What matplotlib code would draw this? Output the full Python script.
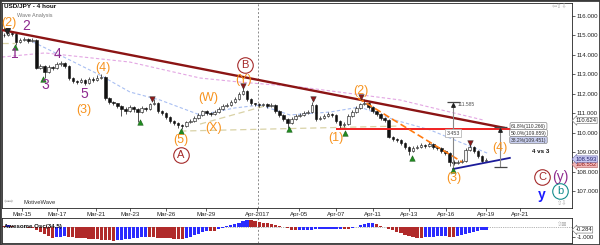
import matplotlib
matplotlib.use("Agg")
import matplotlib.pyplot as plt
from matplotlib.patches import Rectangle
import numpy as np

plt.rcParams['font.family'] = ['Liberation Sans', 'DejaVu Sans']

# ---------------- data ----------------
closes = [
    115.00, 115.15, 115.05, 114.65, 114.75, 114.80, 114.70, 114.75, 113.35, 113.45,
    113.10, 113.40, 113.30, 113.55, 113.60, 113.45, 112.80, 112.65, 112.60, 112.70,
    112.55, 112.75, 112.70, 112.80, 112.85, 111.80, 111.60, 111.50, 111.35, 111.20,
    111.10, 111.30, 111.20, 111.05, 111.25, 111.20, 111.45, 111.55, 111.10, 111.00,
    110.80, 110.60, 110.50, 110.40, 110.35, 110.55, 110.60, 110.75, 110.90, 111.10,
    111.00, 110.95, 111.05, 111.20, 111.35, 111.40, 111.60, 111.75, 112.00, 112.15,
    111.75, 111.50, 111.45, 111.40, 111.45, 111.35, 111.40, 111.10, 110.90, 110.70,
    110.50, 110.70, 110.85, 110.90, 111.00, 111.05, 111.40, 110.70, 110.75, 110.85,
    110.95, 110.90, 110.60, 110.40, 110.45, 110.85, 111.05, 111.25, 111.45, 111.55,
    111.30, 111.10, 110.95, 110.75, 110.65, 109.80, 109.65, 109.60, 109.45, 109.25,
    109.05, 109.20, 109.25, 109.35, 109.30, 109.40, 109.25, 109.20, 109.05, 108.95,
    108.50, 108.45, 108.50, 108.55, 109.10, 109.25, 109.05, 108.80, 108.55, 108.59,
]
highs = [
    115.15, 115.30, 115.20, 115.10, 114.85, 114.90, 114.85, 114.85, 114.80, 113.55,
    113.50, 113.50, 113.45, 113.65, 113.70, 113.65, 113.50, 112.85, 112.70, 112.80,
    112.75, 112.85, 112.85, 112.95, 113.00, 112.90, 111.85, 111.65, 111.55, 111.40,
    111.30, 111.40, 111.35, 111.25, 111.35, 111.30, 111.55, 111.75, 111.60, 111.15,
    111.05, 110.85, 110.65, 110.55, 110.45, 110.60, 110.70, 110.85, 111.00, 111.15,
    111.15, 111.05, 111.15, 111.30, 111.45, 111.50, 111.70, 111.85, 112.10, 112.35,
    112.20, 111.80, 111.55, 111.50, 111.55, 111.50, 111.50, 111.45, 111.15, 110.95,
    110.75, 110.80, 110.95, 111.00, 111.10, 111.15, 111.60, 111.45, 110.85, 110.95,
    111.05, 111.00, 110.95, 110.65, 110.55, 110.95, 111.15, 111.35, 111.55, 111.75,
    111.60, 111.35, 111.15, 111.00, 110.80, 110.70, 109.85, 109.70, 109.65, 109.50,
    109.30, 109.30, 109.35, 109.45, 109.40, 109.50, 109.45, 109.30, 109.25, 109.10,
    109.00, 108.60, 108.60, 108.65, 109.20, 109.40, 109.30, 109.10, 108.85, 108.70,
]
lows = [
    114.90, 114.95, 114.95, 114.50, 114.60, 114.70, 114.60, 114.65, 113.25, 113.25,
    112.80, 113.05, 113.20, 113.25, 113.45, 113.35, 112.70, 112.55, 112.50, 112.55,
    112.45, 112.50, 112.60, 112.65, 112.75, 111.70, 111.45, 111.40, 111.25, 110.85,
    110.95, 111.05, 111.05, 110.55, 111.00, 111.10, 111.15, 111.40, 111.00, 110.90,
    110.70, 110.50, 110.40, 110.25, 110.20, 110.30, 110.50, 110.55, 110.70, 110.85,
    110.90, 110.85, 110.90, 111.00, 111.15, 111.30, 111.35, 111.55, 111.70, 111.95,
    111.65, 111.40, 111.35, 111.30, 111.35, 111.25, 111.30, 111.00, 110.80, 110.60,
    110.25, 110.45, 110.65, 110.80, 110.85, 110.95, 111.00, 110.60, 110.65, 110.70,
    110.80, 110.80, 110.50, 110.20, 110.30, 110.40, 110.80, 111.00, 111.20, 111.40,
    111.20, 111.00, 110.85, 110.65, 110.55, 109.70, 109.55, 109.50, 109.35, 109.15,
    108.85, 109.00, 109.15, 109.20, 109.20, 109.25, 109.15, 109.10, 108.95, 108.85,
    108.30, 108.35, 108.40, 108.45, 108.50, 109.05, 108.95, 108.70, 108.45, 108.50,
]
osc = [
    0.15, 0.20, 0.12, 0.05, -0.02, 0.00, -0.05, -0.12, -0.30, -0.50,
    -0.70, -0.90, -1.05, -1.00, -0.95, -0.90, -0.95, -1.00, -1.05, -1.10,
    -1.12, -1.15, -1.18, -1.20, -1.25, -1.28, -1.32, -1.35, -1.30, -1.25,
    -1.20, -1.15, -1.10, -1.05, -1.00, -0.95, -1.00, -1.02, -1.05, -1.08,
    -1.10, -1.12, -1.15, -1.18, -1.20, -1.10, -0.95, -0.80, -0.65, -0.50,
    -0.35, -0.38, -0.40, -0.22, -0.05, 0.08, 0.20, 0.32, 0.45, 0.58,
    0.70, 0.68, 0.60, 0.52, 0.45, 0.38, 0.30, 0.22, 0.15, 0.05,
    -0.10, -0.25, -0.32, -0.30, -0.28, -0.26, -0.25, -0.24, -0.22, -0.20,
    -0.19, -0.18, -0.16, -0.15, -0.18, -0.20, -0.10, 0.05, 0.20, 0.32,
    0.40, 0.42, 0.30, 0.15, 0.00, -0.15, -0.30, -0.45, -0.60, -0.75,
    -0.90, -1.00, -1.05, -1.10, -1.00, -0.98, -0.95, -0.93, -0.90, -0.88,
    -0.95, -1.00, -0.90, -0.78, -0.65, -0.55, -0.45, -0.37, -0.31, -0.284,
]
date_labels = ["Mar-15", "Mar-17", "Mar-21", "Mar-23", "Mar-26", "Mar-29", "Apr-2017",
               "Apr-05", "Apr-07", "Apr-11", "Apr-13", "Apr-16", "Apr-19", "Apr-21"]
date_bars = [4.4, 13.1, 22.7, 31.1, 40.0, 49.9, 62.5, 72.8, 82.0, 91.1, 100.0, 109.1, 119.0, 127.4]
price_ticks = [107, 108, 109, 110, 111, 112, 113, 114, 115, 116]

# drawn studies (bar index, price)
trend_x = [-0.5, 123.7]
trend_y = [115.28, 110.24]
ma_slow_x = [-0.5, 10.1, 31.1, 48.4, 58.3, 73.1, 97.8, 118.3]
ma_slow_y = [113.89, 114.10, 113.63, 112.81, 112.60, 112.35, 111.68, 110.65]
ma_fast_x = [7.2, 13.8, 23.7, 31.1, 38.5, 48.4, 57.0, 63.2, 70.6, 80.5, 87.9, 96.5, 105.2, 110.1, 119.3]
ma_fast_y = [114.66, 113.99, 112.96, 112.09, 111.68, 110.91, 111.27, 111.42, 110.91, 111.06,
             111.32, 110.65, 110.14, 109.72, 108.95]
beige1_x, beige1_y = [43.5, 97.8], [110.08, 110.34]
beige2_x, beige2_y = [48.4, 64.4], [110.44, 111.37]
beige3_x, beige3_y = [-0.5, 2.7], [114.61, 114.61]
orange_x, orange_y = [87.4, 113.1], [111.78, 108.49]
navy_x, navy_y = [110.9, 124.9], [108.13, 108.70]
red_x, red_y = [82.2, 124.9], [110.19, 110.19]
fib1_x, fib1_lo, fib1_hi = 110.9, 108.15, 111.585
fib2_x, fib2_lo, fib2_hi = 122.5, 108.23, 110.266
fib_levels = ["61.8%(110.266)", "50.0%(109.859)", "38.2%(109.451)"]

# ---------------- helpers ----------------
W, H = 600, 245
def P(x, y):
    return ((x - 4) / 4.05, 116 - (y - 16) / 19.44)

fig = plt.figure(figsize=(6, 2.45), dpi=100)
fig.patch.set_facecolor('white')
ax = fig.add_axes([2 / W, 1 - 208 / H, 570 / W, 205 / H])
ax2 = fig.add_axes([2 / W, 1 - 243 / H, 570 / W, 25 / H])

x0, _ = P(2, 0)
x1, _ = P(572, 0)
_, ytop = P(0, 3)
_, ybot = P(0, 208)
ax.set_xlim(x0, x1)
ax.set_ylim(ybot, ytop)
ax2.set_xlim(x0, x1)
ax2.set_ylim(-1.6, 0.9)

idx = np.arange(len(closes))
c = np.array(closes)
o = np.array([closes[0]] + closes[:-1])

# studies
ax.plot(ma_slow_x, ma_slow_y, color='#e3a6e3', lw=0.8, ls=(0, (3, 2)), zorder=1)
ax.plot(ma_fast_x, ma_fast_y, color='#a9bff2', lw=0.8, ls=(0, (3, 2)), zorder=1)
for bx, by in [(beige1_x, beige1_y), (beige2_x, beige2_y), (beige3_x, beige3_y)]:
    ax.plot(bx, by, color='#d9d2a6', lw=0.9, ls=(0, (5, 3)), zorder=1)

# candles
ax.vlines(idx, lows, highs, color='#111111', lw=0.5, zorder=2)
up = c >= o
fc = np.where(up, '#f4f4f4', '#111111')
ax.bar(idx, c - o, bottom=o, width=0.62, color=fc, edgecolor='#111111', linewidth=0.4, zorder=2.1)

# lines on top
ax.plot(trend_x, trend_y, color='#8b1414', lw=1.7, zorder=3, solid_capstyle='butt')
ax.plot(red_x, red_y, color='#f02020', lw=1.4, zorder=3)
ax.plot(orange_x, orange_y, color='#ff7a10', lw=1.2, ls=(0, (4, 2)), zorder=3)
ax.plot(navy_x, navy_y, color='#1c1c9a', lw=1.3, zorder=3)

ax.axvline(62.7, color='#8a8a8a', lw=0.7, ls=(0, (2, 2)), zorder=0.5)
ax2.axvline(62.7, color='#8a8a8a', lw=0.7, ls=(0, (2, 2)), zorder=0.5)

# fib tool
ax.vlines([fib1_x], fib1_lo, fib1_hi, color='#888888', lw=0.8, zorder=3)
ax.hlines([fib1_hi], fib1_x - 1.6, fib1_x + 1.6, color='#444444', lw=0.9, zorder=3)
ax.scatter([fib1_x], [fib1_hi - 0.14], marker='^', s=6, color='#222222', zorder=4)
ax.text(fib1_x + 1.1, fib1_hi - 0.13, "111.585", fontsize=3.6, color='#555555', va='center', ha='left')
tx, ty = P(453, 133)
ax.text(tx, ty, "3.453", fontsize=3.8, color='#444444', ha='center', va='center',
        bbox=dict(boxstyle='square,pad=0.25', fc='white', ec='#aaaaaa', lw=0.5), zorder=5)
ax.vlines([fib2_x], fib2_lo, fib2_hi, color='#888888', lw=0.8, zorder=3)
ax.hlines([fib2_hi, fib2_lo], fib2_x - 1.6, fib2_x + 1.6, color='#444444', lw=0.9, zorder=3)
ax.scatter([fib2_x], [fib2_hi - 0.14], marker='^', s=6, color='#222222', zorder=4)
for k, (lab, py) in enumerate(zip(fib_levels, [126, 133, 140])):
    lx, ly = P(528.5, py)
    fcol = '#c9cff0' if k == 2 else 'white'
    ax.text(lx, ly, lab, fontsize=3.6, color='#333333', ha='center', va='center',
            bbox=dict(boxstyle='round,pad=0.2,rounding_size=0.3', fc=fcol, ec='#888888', lw=0.5), zorder=5)
lx, ly = P(541, 151)
ax.text(lx, ly, "4 vs 3", fontsize=4.5, fontweight='bold', ha='center', va='center', color='#111111')

# pivot markers
greens = [(15, 47), (43, 79), (140, 122), (181, 131), (289, 129), (345, 133), (412, 158), (453, 170)]
reds = [(152, 99), (243, 86), (313, 99), (361, 97), (470, 143)]
gx, gy = zip(*[P(a, b) for a, b in greens])
ax.scatter(gx, gy, marker='^', s=16, color='#1f8a1f', edgecolor='#0d4d0d', linewidth=0.3, zorder=4)
rx, ry = zip(*[P(a, b) for a, b in reds])
ax.scatter(rx, ry, marker='v', s=16, color='#8b1a1a', edgecolor='#222222', linewidth=0.3, zorder=4)
bx, by = P(7, 31)
ax.scatter([bx], [by], marker='v', s=16, color='#222222', zorder=4)

# wave labels
orange = '#f7931e'
purple = '#8e2a8e'
labels = [
    ("(2)", 9, 23, orange, 9), ("2", 26, 26, purple, 10), ("1", 15, 54, purple, 10),
    ("4", 58, 54, purple, 10), ("3", 45, 85, purple, 10), ("(4)", 103, 68, orange, 9),
    ("5", 84, 94, purple, 10), ("(3)", 84, 110, orange, 9), ("(5)", 181, 140, orange, 9),
    ("(W)", 208, 98, orange, 9), ("(X)", 214, 128, orange, 9), ("(Y)", 244, 80, orange, 9),
    ("(2)", 361, 91, orange, 9), ("(1)", 336, 138, orange, 9), ("(3)", 454, 178, orange, 9),
    ("(4)", 500, 148, orange, 9), ("(y)", 560, 177, purple, 10),
]
for t, px, py, col, fs in labels:
    lx, ly = P(px, py)
    ax.text(lx, ly, t, color=col, fontsize=fs, ha='center', va='center', zorder=6)
lx, ly = P(542, 195)
ax.text(lx, ly, "y", color='#1a1aff', fontsize=10, fontweight='bold', ha='center', va='center', zorder=6)
circles = [("A", 181, 155, '#a52a2a'), ("B", 245, 65, '#a52a2a'), ("C", 542, 177, '#a52a2a'), ("b", 560, 191, '#128c8c')]
for t, px, py, col in circles:
    lx, ly = P(px, py)
    ax.scatter([lx], [ly], s=125, facecolor='white', edgecolor=col, linewidth=0.8, zorder=6)
    ax.text(lx, ly - 0.02, t, color=col, fontsize=8, ha='center', va='center', zorder=7)

# axes styling
for a in (ax, ax2):
    for s in a.spines.values():
        s.set_color('#222222')
        s.set_linewidth(0.6)
ax.yaxis.tick_right()
ax.set_yticks(price_ticks)
ax.set_yticklabels(["%.3f" % v for v in price_ticks])
ax.tick_params(axis='y', direction='out', length=2, width=0.5, pad=1.2, labelsize=4.4, colors='#222222')
ax.set_xticks(date_bars)
ax.set_xticklabels(date_labels)
ax.tick_params(axis='x', direction='out', length=2, width=0.5, pad=1.2, labelsize=4.4, colors='#222222')

# price markers on the right axis
tr = ax.get_yaxis_transform()
ax.text(1.006, 110.624, "110.624", transform=tr, fontsize=4.2, va='center', ha='left', color='#222222',
        bbox=dict(boxstyle='larrow,pad=0.12', fc='white', ec='#666666', lw=0.4), zorder=8, clip_on=False)
ax.text(1.006, 108.64, "108.593", transform=tr, fontsize=4.2, va='center', ha='left', color='#20206a',
        bbox=dict(boxstyle='larrow,pad=0.12', fc='#c9c9f2', ec='#6a6aa8', lw=0.4), zorder=8, clip_on=False)
ax.text(1.006, 108.36, "108.552", transform=tr, fontsize=4.2, va='center', ha='left', color='#8b1a1a',
        bbox=dict(boxstyle='larrow,pad=0.12', fc='#f2b8b8', ec='#b06060', lw=0.4), zorder=7, clip_on=False)

# oscillator
ov = np.array(osc)
prev = np.concatenate([[ov[0] + 0.01], ov[:-1]])
ocol = np.where(ov >= prev, '#2a2aff', '#b02a2a')
ax2.bar(idx, ov, width=0.8, color=ocol, linewidth=0, zorder=2)
ax2.axhline(0, color='#999999', lw=0.6, ls=(0, (1, 1.2)), zorder=1)
ax2.set_xticks([])
ax2.yaxis.tick_right()
ax2.set_yticks([-1.0])
ax2.set_yticklabels(["-1.000"])
ax2.tick_params(axis='y', direction='out', length=2, width=0.5, pad=1.2, labelsize=4.4, colors='#222222')
tr2 = ax2.get_yaxis_transform()
ax2.text(1.006, -0.284, "-0.284", transform=tr2, fontsize=4.2, va='center', ha='left', color='#222222',
         bbox=dict(boxstyle='larrow,pad=0.12', fc='white', ec='#666666', lw=0.4), zorder=8, clip_on=False)

# figure texts
fig.text(4 / W, 1 - 7 / H, "USD/JPY - 4 hour", fontsize=4.6, fontweight='bold', ha='left', va='center', color='#111111')
fig.text(17 / W, 1 - 15.5 / H, "Wave Analysis", fontsize=4.0, ha='left', va='center', color='#777777')
fig.text(4 / W, 1 - 202 / H, "\u21e6\u21e8", fontsize=4.5, ha='left', va='center', color='#999999')
fig.text(23 / W, 1 - 202 / H, "MotiveWave", fontsize=4.2, ha='left', va='center', color='#333333')
fig.text(4 / W, 1 - 226 / H, "Awesome Osc(34,5)", fontsize=4.4, fontweight='bold', ha='left', va='center', color='#111111')
fig.text(560 / W, 1 - 6 / H, "\u21e6\u21e7\u21e9", fontsize=4.5, ha='center', va='center', color='#aaaaaa')
fig.text(562 / W, 1 - 203 / H, "\u21e7\u21e9", fontsize=4.5, ha='center', va='center', color='#aaaaaa')
fig.text(562 / W, 1 - 224 / H, "\u21e7\u22a0", fontsize=4.5, ha='center', va='center', color='#aaaaaa')

fig.patches.append(Rectangle((0, 0), 1, 1, transform=fig.transFigure, fill=False,
                             ec='#3a3a3a', lw=2.0, zorder=10))

fig.savefig("out.png", dpi=100, facecolor='white')
